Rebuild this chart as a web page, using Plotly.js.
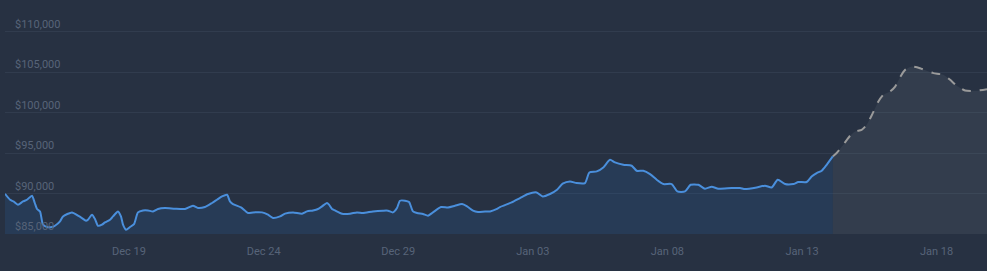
<!DOCTYPE html>
<html>
<head>
<meta charset="utf-8">
<script src="https://cdn.plot.ly/plotly-3.0.1.min.js"></script>
<style>
html,body{margin:0;padding:0;background:#273142;}
#chart{width:987px;height:271px;}
</style>
</head>
<body>
<div id="chart"></div>
<script>
const actualDates = ['2025-12-14 09:27','2025-12-14 14:00','2025-12-14 17:00','2025-12-14 21:00','2025-12-15 01:30','2025-12-15 05:00','2025-12-15 09:30','2025-12-15 12:00','2025-12-15 14:00','2025-12-15 16:40','2025-12-15 19:20','2025-12-15 23:00','2025-12-16 03:20','2025-12-16 06:00','2025-12-16 10:30','2025-12-16 13:10','2025-12-16 21:10','2025-12-17 02:30','2025-12-17 06:00','2025-12-17 09:40','2025-12-17 11:25','2025-12-17 15:00','2025-12-17 17:40','2025-12-17 20:20','2025-12-17 23:55','2025-12-18 02:35','2025-12-18 07:05','2025-12-18 09:45','2025-12-18 14:10','2025-12-18 16:50','2025-12-18 18:40','2025-12-18 21:20','2025-12-19 00:55','2025-12-19 04:30','2025-12-19 08:00','2025-12-19 12:30','2025-12-19 17:00','2025-12-19 21:25','2025-12-20 01:50','2025-12-20 08:05','2025-12-20 17:00','2025-12-21 01:55','2025-12-21 09:00','2025-12-21 13:30','2025-12-21 19:40','2025-12-22 02:00','2025-12-22 06:25','2025-12-22 10:55','2025-12-22 15:25','2025-12-22 18:00','2025-12-22 20:40','2025-12-23 03:50','2025-12-23 10:05','2025-12-23 14:35','2025-12-23 22:35','2025-12-24 03:55','2025-12-24 08:25','2025-12-24 14:40','2025-12-24 19:05','2025-12-25 02:15','2025-12-25 10:15','2025-12-25 14:40','2025-12-25 20:00','2025-12-26 00:30','2025-12-26 04:05','2025-12-26 08:30','2025-12-26 10:20','2025-12-26 13:00','2025-12-26 15:40','2025-12-26 21:55','2025-12-27 05:00','2025-12-27 11:15','2025-12-27 16:35','2025-12-28 01:30','2025-12-28 10:25','2025-12-28 14:55','2025-12-28 19:20','2025-12-28 22:55','2025-12-29 01:35','2025-12-29 06:05','2025-12-29 09:40','2025-12-29 13:10','2025-12-29 16:45','2025-12-29 22:05','2025-12-30 02:35','2025-12-30 07:00','2025-12-30 14:10','2025-12-30 20:25','2025-12-31 02:35','2025-12-31 08:55','2025-12-31 13:25','2025-12-31 18:40','2025-12-31 23:10','2026-01-01 05:25','2026-01-01 09:55','2026-01-01 16:05','2026-01-01 18:40','2026-01-02 05:10','2026-01-02 12:35','2026-01-02 19:40','2026-01-03 03:25','2026-01-03 08:50','2026-01-03 15:20','2026-01-03 21:35','2026-01-04 02:35','2026-01-04 09:10','2026-01-04 15:05','2026-01-04 22:30','2026-01-05 02:25','2026-01-05 09:00','2026-01-05 14:50','2026-01-05 20:50','2026-01-06 01:15','2026-01-06 08:40','2026-01-06 16:10','2026-01-06 20:35','2026-01-07 02:30','2026-01-07 08:30','2026-01-07 14:30','2026-01-07 20:25','2026-01-08 03:50','2026-01-08 08:50','2026-01-08 15:40','2026-01-08 20:45','2026-01-09 03:30','2026-01-09 09:30','2026-01-09 15:30','2026-01-09 21:25','2026-01-10 09:20','2026-01-10 16:45','2026-01-10 21:10','2026-01-11 07:35','2026-01-11 15:00','2026-01-11 21:00','2026-01-12 02:20','2026-01-12 08:50','2026-01-12 16:15','2026-01-12 20:40','2026-01-13 04:10','2026-01-13 08:35','2026-01-13 13:05','2026-01-13 17:35','2026-01-13 22:00','2026-01-14 03:25'];
const actualPrices = [89970,89230,89020,88620,89020,89230,89730,88830,88090,87790,86150,85860,85860,86020,86560,87170,87670,87260,86970,86640,86770,87380,86850,86020,86150,86430,86770,87170,87790,87170,86150,85530,85860,86230,87670,87910,87910,87790,88090,88210,88120,88090,88490,88210,88330,88830,89230,89640,89850,89020,88700,88280,87590,87670,87670,87380,86970,87170,87510,87670,87510,87790,87910,88090,88410,88830,88620,88090,87910,87510,87510,87670,87590,87790,87880,87880,87670,88210,89110,89110,88950,87790,87590,87470,87260,87670,88330,88280,88490,88700,88410,87880,87720,87790,87790,88090,88330,88900,89440,89940,90130,89640,89940,90470,91210,91490,91290,91290,92600,92730,93220,94170,93840,93550,93430,92810,92810,92400,91700,91170,91170,90260,90260,91080,91080,90590,90840,90590,90680,90680,90550,90750,90960,90750,91700,91170,91170,91420,91420,92110,92530,92810,93550,94580];

const forecastDates = ['2026-01-14 03:25','2026-01-14 06:55','2026-01-14 12:50','2026-01-14 18:50','2026-01-14 23:15','2026-01-15 05:10','2026-01-15 09:40','2026-01-15 15:05','2026-01-15 20:05','2026-01-16 00:30','2026-01-16 06:30','2026-01-16 11:00','2026-01-16 15:25','2026-01-16 19:55','2026-01-17 01:55','2026-01-17 09:10','2026-01-17 15:10','2026-01-17 21:05','2026-01-18 06:00','2026-01-18 12:00','2026-01-18 18:00','2026-01-19 01:20','2026-01-19 10:20','2026-01-19 20:55'];
const forecastPrices = [94580,95000,96020,97130,97660,97870,98490,99930,101360,102190,102600,103210,104370,105270,105680,105480,105150,104870,104660,104040,103300,102720,102680,102890];

const xTickVals = ['2025-12-19','2025-12-24','2025-12-29','2026-01-03','2026-01-08','2026-01-13','2026-01-18'];
const xTickText = ['Dec 19','Dec 24','Dec 29','Jan 03','Jan 08','Jan 13','Jan 18'];
const yTickVals = [85000,90000,95000,100000,105000,110000];
const yTickText = ['$85,000','$90,000','$95,000','$100,000','$105,000','$110,000'];

const traces = [
  {
    x: forecastDates, y: forecastPrices, type: 'scatter', mode: 'lines',
    fill: 'tozeroy', fillcolor: 'rgba(120,135,140,0.15)',
    line: {color: '#9a9a9a', width: 2, dash: 'dash', shape: 'spline', smoothing: 0.6},
    hoverinfo: 'skip'
  },
  {
    x: actualDates, y: actualPrices, type: 'scatter', mode: 'lines',
    fill: 'tozeroy', fillcolor: 'rgba(39,100,172,0.2)',
    line: {color: '#4a8fdc', width: 2, shape: 'spline', smoothing: 0.6},
    hoverinfo: 'skip'
  }
];

const layout = {
  width: 987, height: 271,
  margin: {l: 5, r: 0, t: 0, b: 37, pad: 0},
  paper_bgcolor: '#273142',
  plot_bgcolor: '#273142',
  showlegend: false,
  font: {family: 'Roboto, sans-serif', size: 11, color: '#576479'},
  xaxis: {
    type: 'date',
    range: ['2025-12-14 09:27', '2026-01-19 20:55'],
    tickmode: 'array', tickvals: xTickVals, ticktext: xTickText,
    showgrid: false, zeroline: false, showline: false, ticks: '',
    ticklabelstandoff: 9,
    tickfont: {family: 'Roboto, sans-serif', size: 11, color: '#576479'},
    fixedrange: true
  },
  yaxis: {
    range: [85000, 113900],
    tickmode: 'array', tickvals: yTickVals, ticktext: yTickText,
    ticklabelposition: 'inside top',
    ticklabelstandoff: 7,
    showgrid: true, gridcolor: '#313c4e', gridwidth: 1,
    zeroline: false, showline: false, ticks: '',
    tickfont: {family: 'Roboto, sans-serif', size: 11, color: '#576479'},
    fixedrange: true
  }
};

Plotly.newPlot('chart', traces, layout, {displayModeBar: false, staticPlot: true});
</script>
</body>
</html>
